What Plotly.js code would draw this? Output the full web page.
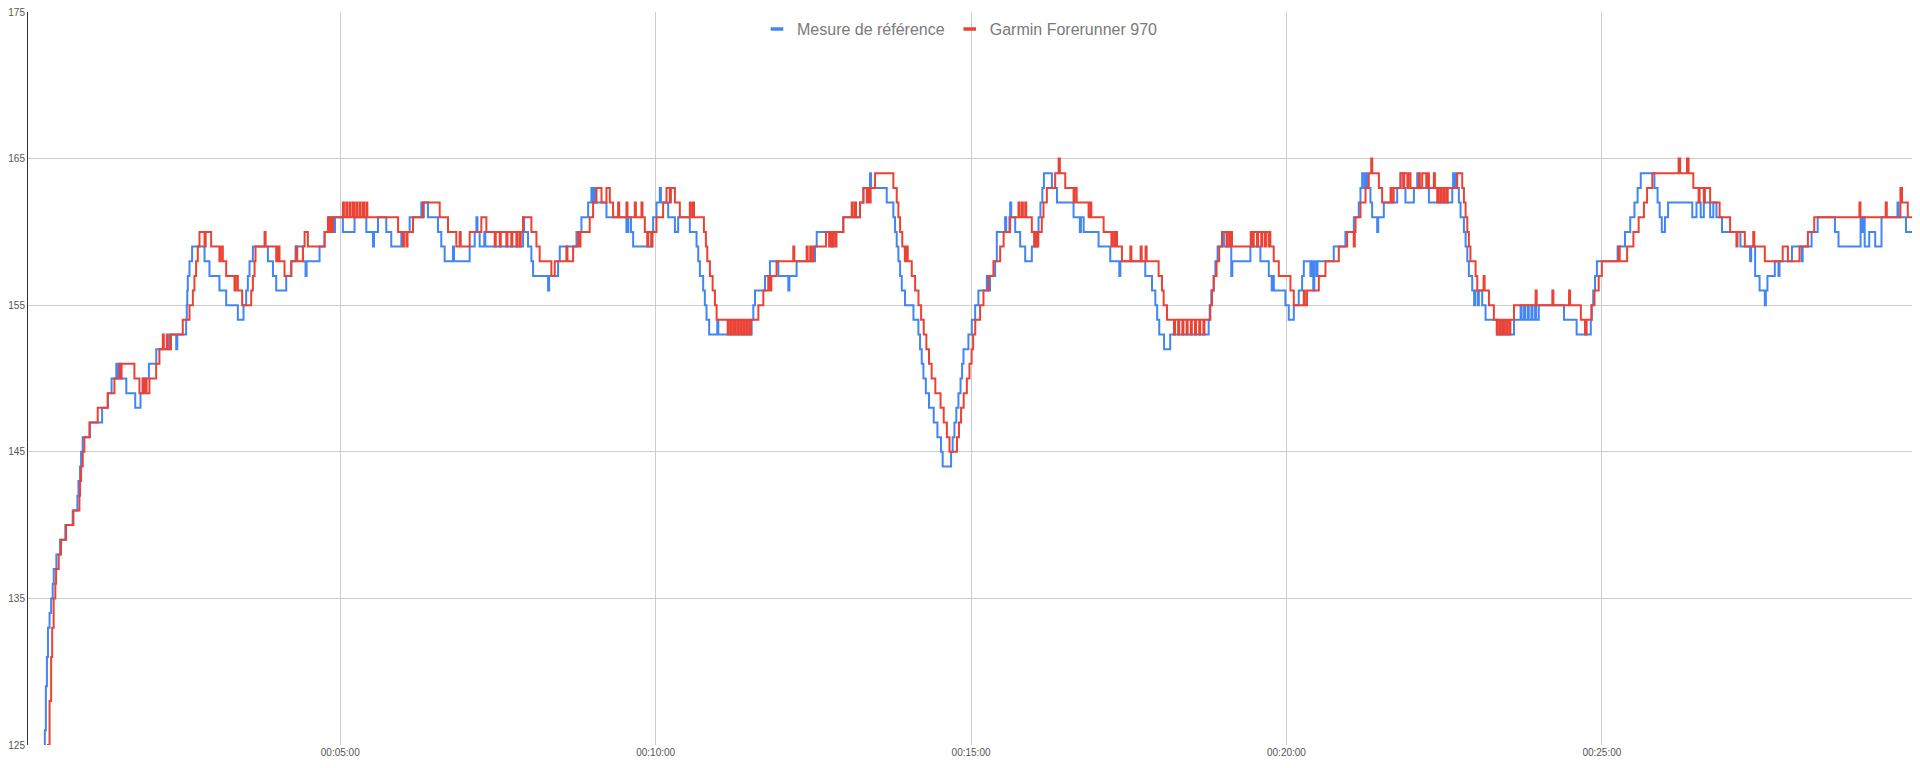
<!DOCTYPE html>
<html>
<head>
<meta charset="utf-8">
<script src="https://cdn.plot.ly/plotly-3.0.1.min.js"></script>
<style>
  html, body { margin: 0; padding: 0; background: #fff; }
  #chart { width: 1920px; height: 768px; }
</style>
</head>
<body>
<div id="chart"></div>
<script>
// Heart rate (bpm), as [seconds, bpm] change points.
// Each value holds until the next point (drawn as steps).
var seriesNames = ['Mesure de référence', 'Garmin Forerunner 970'];

var referencePoints = [
  [3,110],[12,117],[17,123],[19,126],[20,129],[21,131],[22,133],[23.5,134],[25,135],[26.5,136],[27.5,137],[30,138],
  [33.5,139],[38.5,140],[45.5,141],[50,142],[51,143],[52.5,144],[53.5,145],[55,146],[62,147],[73.5,148],[79,149],
  [82.5,150],[87,151],[88.2,150],[89.5,151],[91.5,150],[96.5,149],[105,148],[110,149],[112,150],[118,151],[125,152],
  [137.6,153],[144,152],[145,153],[153.4,154],[154,155],[154.5,156],[155,157],[156.6,158],[159.1,159],[170.9,158],
  [175.6,157],[185.1,156],[191.5,155],[202.6,154],[208,155],[210.5,156],[212.1,157],[213.7,158],[216.9,159],[231.2,158],
  [236,157],[239.1,156],[248.6,157],[253.4,158],[257.5,159],[264.5,158],[267,157],[268,158],[280.3,159],[285.1,160],
  [289.2,161],[290.2,160],[292,161],[293,160],[295,161],[302.5,160],[313.6,161],[324.8,160],[331.1,159],[332.1,160],
  [335.9,161],[343.8,160],[348.5,159],[358.1,160],[366,161],[377.1,162],[378.3,161],[379.5,162],[383.4,161],[393,160],
  [396.1,159],[399.3,158],[407.2,159],[408.2,158],[423.1,159],[427.9,160],[429.5,161],[430.5,160],[432.6,159],[437,160],
  [438,159],[473.9,161],[474.9,160],[478.6,159],[481.8,158],[483.4,157],[497.7,156],[498.7,157],[507.2,158],[508.8,159],
  [524.7,160],[529.4,161],[535.8,162],[538.9,163],[539.9,162],[541.5,163],[542.5,162],[553.2,161],[572.2,160],[574,161],
  [576.5,160],[578.6,159],[596,160],[597.6,161],[600.8,162],[604,163],[605,162],[611.9,161],[618.3,160],[621.4,161],
  [632.5,160],[638.9,159],[640.5,158],[642.1,157],[645.2,156],[646.8,155],[648.4,154],[650.9,153],[658.6,154],[659.6,153],
  [691.3,154],[692.9,155],[694.5,156],[704,157],[708.7,158],[716.7,157],[726.2,156],[727.2,157],[734.1,158],[751.6,159],
  [753.2,160],[767.4,159],[768.4,160],[778.5,161],[794.4,162],[797.6,163],[803.9,164],[804.9,163],[819.8,162],[826.1,161],
  [827.7,160],[829.3,159],[830.9,158],[832.5,157],[834.1,156],[837.2,155],[845.2,154],[849.9,153],[851.5,152],[853.1,151],
  [854.7,150],[857,149],[860,148],[864.5,147],[868,146],[871.4,145],[873,144],[881,145],[882.5,146],[884.2,147],[886,148],
  [888,149],[890,150],[891.5,151],[892.8,152],[897.5,153],[900.7,154],[903.9,155],[907,156],[915,157],[916,156],
  [918,157],[922.9,158],[924.5,160],[932.4,161],[933.4,160],[936.5,161],[937.2,162],[938.2,161],[942,160],[946.7,159],
  [951.5,158],[957.8,159],[962.6,160],[964.2,161],[966,162],[967.8,163],[969.3,164],[976.9,163],[981.7,162],[997.5,161],
  [1003.5,160],[1004.5,161],[1007.1,160],[1021.3,159],[1032.4,158],[1041,157],[1042,158],[1065.7,157],[1072.1,156],
  [1075.3,155],[1077,154],[1079,153],[1083.6,152],[1089.4,153],[1126,154],[1127,155],[1128.5,156],[1130.8,157],[1132.4,158],
  [1134.5,159],[1139.5,160],[1140.5,159],[1147.5,157],[1148.5,158],[1165.7,159],[1175.2,158],[1183.2,157],[1186,156],
  [1187,157],[1188,156],[1199,155],[1202.2,154],[1207,155],[1211.7,156],[1214.9,157],[1216.5,158],[1222.8,157],
  [1223.8,158],[1225.5,156],[1226.5,158],[1228.5,157],[1229.5,158],[1245,159],[1256.1,160],[1264.1,161],[1268.8,162],
  [1270.4,163],[1272,164],[1274,163],[1275,164],[1276.8,163],[1279.9,162],[1281.5,161],[1286.3,160],[1287.3,161],
  [1292.6,162],[1305.3,163],[1308.5,164],[1311.7,163],[1313.2,162],[1321.2,163],[1324.4,164],[1325.4,163],[1335.5,162],
  [1357.7,163],[1358.5,164],[1359.5,163],[1360.5,164],[1361.3,163],[1364,162],[1365.6,161],[1368.8,160],[1370.4,159],
  [1372,158],[1373.5,157],[1376.7,156],[1378.5,155],[1379.5,156],[1382,155],[1383,156],[1386.2,155],[1389.4,154],
  [1400.5,153],[1416.4,154],[1422.7,155],[1423.7,154],[1426,155],[1427,154],[1429.5,155],[1430.5,154],[1433,155],
  [1434,154],[1436.5,155],[1437.5,154],[1440,155],[1464,154],[1476,153],[1489.5,154],[1490.5,155],[1491.8,156],
  [1493.5,157],[1495.3,158],[1515,159],[1522,160],[1527,161],[1531,162],[1534,163],[1537,164],[1550,163],[1553,162],
  [1555,161],[1557,160],[1560,161],[1563,162],[1586,161],[1590,162],[1594,161],[1597,162],[1603,161],[1606,162],
  [1609,161],[1614.3,160],[1631.8,159],[1641,158],[1642,159],[1645.8,157],[1650,156],[1655,155],[1656,156],[1657.5,157],
  [1664.5,158],[1668,157],[1669,158],[1680.8,159],[1690,158],[1691,159],[1699.5,160],[1705.3,161],[1721.7,160],
  [1725.1,159],[1746.1,161],[1747.1,160],[1749,161],[1750,159],[1754.3,160],[1760,159],[1766,161],[1781.2,162],
  [1782.2,161],[1789.3,160],[1795,160]
];

var garminPoints = [
  [3,100],[14,112],[19,119],[22,125],[23.5,128],[25,131],[26,133],[27.4,135],[29,136],[29.7,137],[32.2,138],[34.4,139],
  [39.2,140],[46.2,141],[51.9,142],[52.5,143],[53.5,144],[55.1,145],[56.6,146],[61.4,147],[69.3,148],[78.8,149],[85.2,150],
  [90,151],[91,150],[92,151],[104.2,150],[109,149],[112.2,150],[113.2,149],[114.8,150],[115.8,149],[118.5,150],[124.9,151],
  [128,152],[131.2,153],[132.2,152],[135,153],[136,152],[139,153],[150.2,154],[156.6,155],[159.8,156],[161.3,157],
  [162.9,158],[164.5,159],[166.1,160],[170.9,159],[172,160],[177.2,159],[185.1,158],[186.3,159],[188.3,158],[191.5,157],
  [199.4,156],[200.6,157],[202.6,156],[206.7,155],[215.3,156],[216.9,157],[218.5,158],[219.4,159],[228,160],[229,159],
  [239.1,158],[240.3,159],[242.2,158],[247,157],[253.4,158],[258.1,159],[259.1,158],[264.5,159],[266.1,160],[269.2,159],
  [285.1,160],[288.3,161],[289.3,160],[290.5,161],[291.5,160],[293,161],[302.5,162],[303.5,161],[305.7,162],[306.7,161],
  [308.9,162],[309.9,161],[312.1,162],[313.1,161],[315.2,162],[316.2,161],[318.4,162],[319.4,161],[321.6,162],[322.6,161],
  [324.8,162],[325.8,161],[355,160],[359.6,159],[360.6,160],[363,159],[364,160],[369.2,161],[378.7,162],[394.6,161],
  [402.5,160],[410.4,159],[413.6,160],[414.6,159],[423.1,160],[434.2,161],[439,160],[446.9,159],[447.9,160],[451.7,159],
  [452.7,160],[458,159],[459,160],[462.7,159],[463.7,160],[467.5,159],[468.5,160],[470.7,159],[471.7,160],[473.9,161],
  [481.8,160],[486.6,159],[489.7,158],[500.8,157],[504,158],[515.1,159],[516.1,158],[521.5,159],[526.2,160],[527.2,159],
  [528.5,160],[537.3,161],[540.5,162],[543.7,163],[548.5,162],[553.2,163],[556.4,162],[559.5,161],[564.3,162],[565.3,161],
  [572.2,162],[573.2,161],[580.2,162],[581.2,161],[586.5,162],[587.5,161],[589.7,160],[592,159],[593,160],[596,159],
  [597,160],[600.8,161],[607.1,162],[610.3,163],[613.5,162],[614.5,163],[618.3,162],[623,161],[632.5,162],[633.5,161],
  [635.5,162],[636.5,161],[645.9,160],[647.8,159],[649.1,158],[651.6,157],[654.2,156],[656.4,155],[658,154],[668.5,153],
  [669.5,154],[671.5,153],[672.5,154],[674.5,153],[675.5,154],[677.5,153],[678.5,154],[680.5,153],[681.5,154],[683.5,153],
  [684.5,154],[686.5,153],[687.5,154],[689.5,153],[690.5,154],[697.7,155],[702.4,156],[707.1,157],[708.1,156],[710,157],
  [715,158],[730.9,159],[731.9,158],[743.6,159],[744.6,158],[747,159],[748,158],[750,159],[762,160],[765,159],[766,160],
  [768,159],[769,160],[771,159],[772,160],[778.5,161],[786.5,162],[787.5,161],[789.6,162],[790.6,161],[794.4,162],
  [797.6,163],[800.8,162],[801.8,163],[803.5,162],[804.5,163],[808.7,164],[826.1,163],[829.3,162],[830.9,161],[832.5,160],
  [834.6,159],[837,158],[838.8,159],[839.8,158],[843.6,157],[846.8,156],[850,155],[852.5,154],[855,153],[857.5,152],
  [860,151],[862.5,150],[866,149],[871,148],[874,147],[877,146],[879.5,145],[886.6,146],[888.5,147],[890.5,148],[893,149],
  [896,150],[898.5,151],[900.5,152],[902,153],[904,154],[908.6,155],[911.8,156],[916.6,157],[921.3,158],[927.7,159],
  [931,160],[937.2,161],[945.1,162],[946.1,161],[948.3,162],[949.3,161],[951.5,162],[952.5,161],[957.8,160],[960,159],
  [961,160],[963,159],[964,160],[967.3,161],[968.9,162],[972.1,163],[980,164],[983.3,165],[984.5,164],[989.6,163],
  [997.5,162],[998.5,163],[1000.5,162],[1011.8,161],[1013.4,162],[1014.4,161],[1026.1,160],[1033.5,159],[1034.5,160],
  [1036.5,159],[1037.5,160],[1038.8,159],[1043.5,158],[1051.5,159],[1052.5,158],[1061.3,159],[1062.3,158],[1066,159],
  [1067,158],[1078.4,157],[1081.6,156],[1083.2,155],[1086.4,154],[1093,153],[1094,154],[1097,153],[1098,154],[1101,153],
  [1102,154],[1105,153],[1106,154],[1109,153],[1110,154],[1113,153],[1114,154],[1117,153],[1118,154],[1121,153],
  [1122,154],[1127.6,155],[1129.2,156],[1130.8,157],[1133.5,158],[1136,159],[1138.7,160],[1143,159],[1144,160],
  [1146,159],[1147,160],[1148.2,159],[1166,160],[1167,159],[1168.9,160],[1172,159],[1173,160],[1176,159],[1177,160],
  [1179.5,159],[1180.5,160],[1183,159],[1184,160],[1184.7,159],[1187.9,158],[1192.7,157],[1203.8,156],[1207,155],
  [1216.5,156],[1217.5,155],[1219.6,156],[1230.8,157],[1237.1,158],[1249.8,159],[1257.7,160],[1264,159],[1265,160],
  [1265.7,161],[1270.4,162],[1275.2,163],[1278.3,164],[1280.6,165],[1281.6,164],[1287.9,163],[1291,162],[1299,163],
  [1300,162],[1302,163],[1308.5,164],[1311,163],[1312,164],[1315,163],[1316,164],[1318,163],[1325.9,164],[1326.9,163],
  [1329.1,164],[1333,163],[1334,164],[1335.5,163],[1340.2,164],[1341.2,163],[1343.4,162],[1344.4,163],[1346.4,162],
  [1347.4,163],[1349.4,162],[1350.4,163],[1352.4,162],[1353.4,163],[1362.4,164],[1367.2,163],[1368.8,162],[1370.4,161],
  [1372,160],[1373.5,159],[1375,158],[1379.9,157],[1381.5,156],[1387.5,157],[1388.5,156],[1392.6,155],[1397.3,154],
  [1400,153],[1401,154],[1403,153],[1404,154],[1406,153],[1407,154],[1409,153],[1410,154],[1412,153],[1413,154],
  [1416.4,155],[1437,156],[1438,155],[1452.9,156],[1453.9,155],[1468.8,156],[1469.8,155],[1480,154],[1484,153],
  [1485.5,154],[1490,155],[1493,156],[1497,157],[1500,158],[1516,159],[1517,158],[1524,159],[1530,160],[1535,161],
  [1540,162],[1543,163],[1548,164],[1573,165],[1574.5,164],[1581,165],[1582.5,164],[1587,163],[1592,162],[1593,163],
  [1597,162],[1598,163],[1603,162],[1612,161],[1622,160],[1628,159],[1629,160],[1636,159],[1644,160],[1645,159],
  [1655,158],[1672,159],[1677,158],[1688,159],[1696,160],[1702,161],[1745,162],[1746,161],[1770,162],[1771,161],
  [1784,163],[1785.5,162],[1791,161],[1795,161]
];

var tickSeconds = [300, 600, 900, 1200, 1500];
var tickLabels = ['00:05:00', '00:10:00', '00:15:00', '00:20:00', '00:25:00'];
var yTicks = [125, 135, 145, 155, 165, 175];

var colors = ['#4285f4', '#ea4335'];
var allPoints = [referencePoints, garminPoints];

var data = [];
// the two heart rate lines
allPoints.forEach(function (pts, i) {
  data.push({
    x: pts.map(function (p) { return p[0]; }),
    y: pts.map(function (p) { return p[1]; }),
    type: 'scatter',
    mode: 'lines',
    name: seriesNames[i],
    legendgroup: 'g' + i,
    showlegend: false,
    line: { color: colors[i], width: 2, shape: 'hv' },
    hoverinfo: 'x+y'
  });
});
// legend entries with a short dash like the original
seriesNames.forEach(function (name, i) {
  data.push({
    x: [null], y: [null],
    type: 'scatter',
    mode: 'markers',
    name: name,
    legendgroup: 'g' + i,
    marker: { symbol: 'line-ew', size: 9, line: { color: colors[i], width: 3.5 } }
  });
});

var layout = {
  width: 1920,
  height: 768,
  margin: { l: 28, r: 8, t: 12, b: 23, autoexpand: false },
  paper_bgcolor: '#ffffff',
  plot_bgcolor: '#ffffff',
  font: { family: 'Liberation Sans, Arial, sans-serif', size: 10, color: '#555555' },
  showlegend: true,
  legend: {
    orientation: 'h',
    xref: 'container', yref: 'container',
    x: 0.5, xanchor: 'center',
    y: 0.962, yanchor: 'middle',
    itemwidth: 30,
    font: { size: 16, color: '#7a7a7a' },
    bgcolor: 'rgba(0,0,0,0)'
  },
  xaxis: {
    range: [3, 1795],
    tickmode: 'array',
    tickvals: tickSeconds,
    ticktext: tickLabels,
    showgrid: true,
    gridcolor: '#cccccc',
    gridwidth: 1,
    zeroline: false,
    showline: false,
    ticks: ''
  },
  yaxis: {
    range: [125, 175],
    tickmode: 'array',
    tickvals: yTicks,
    ticktext: yTicks.map(String),
    showgrid: true,
    gridcolor: '#cccccc',
    gridwidth: 1,
    zeroline: false,
    showline: true,
    linecolor: '#333333',
    linewidth: 1,
    ticks: ''
  }
};

Plotly.newPlot('chart', data, layout, { displayModeBar: false });
</script>
</body>
</html>
